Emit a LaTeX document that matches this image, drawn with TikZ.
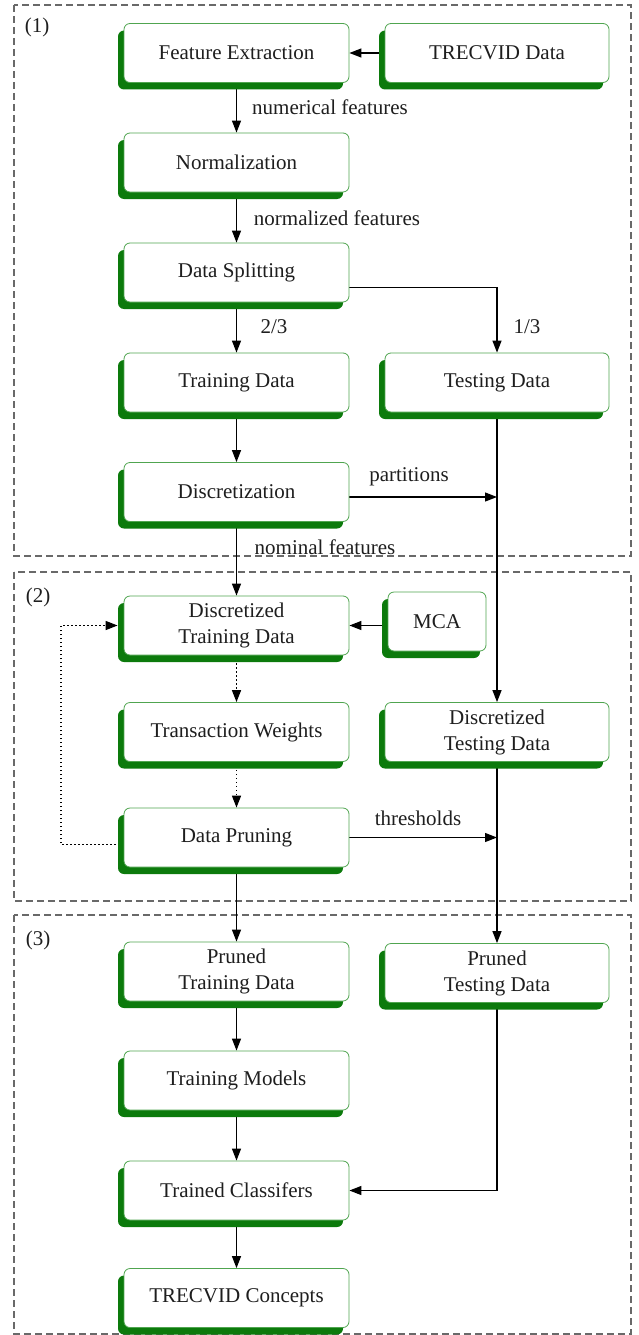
\documentclass[tikz,border=0pt]{standalone}
\usepackage{fontspec}
\setmainfont{Liberation Serif}
\usetikzlibrary{arrows.meta,shadows,calc}
\pgfdeclarelayer{background}
\pgfsetlayers{background,main}
\definecolor{boxline}{RGB}{80,165,80}
\definecolor{boxshade}{RGB}{12,122,12}
\definecolor{framegray}{RGB}{105,105,105}
\definecolor{inkgray}{RGB}{30,30,30}
\begin{document}
\begin{tikzpicture}[x=1pt,y=-1pt,
  txt/.style={font=\fontsize{21}{26}\selectfont, text=inkgray},
  stage/.style={txt, draw=boxline, line width=0.8pt, fill=white,
    rounded corners=6pt, minimum width=225pt, minimum height=59pt,
    align=center, inner sep=2pt,
    drop shadow={shadow xshift=-6pt, shadow yshift=-7pt, opacity=1, fill=boxshade}},
  small/.style={stage, minimum width=98pt},
  lbl/.style={txt, inner sep=0pt},
  frame/.style={draw=framegray, line width=1.2pt, dash pattern=on 7pt off 4pt},
  flow/.style={draw=black, line width=1.2pt, -{Triangle[length=12pt,width=9pt]}},
  loopback/.style={flow, dash pattern=on 1.5pt off 2.5pt, line width=1.4pt}]
\useasboundingbox (0,0) rectangle (638,1335);

% processing stages, left column
\node[stage] (fe)   at (236.5,53)    {Feature Extraction};
\node[stage] (norm) at (236.5,162.5) {Normalization};
\node[stage] (ds)   at (236.5,272.5) {Data Splitting};
\node[stage] (trd)  at (236.5,382.5) {Training Data};
\node[stage] (disc) at (236.5,492)   {Discretization};
\node[stage] (dtd)  at (236.5,625.5) {Discretized\\Training Data};
\node[stage] (tw)   at (236.5,732)   {Transaction Weights};
\node[stage] (dp)   at (236.5,837.5) {Data Pruning};
\node[stage] (ptr)  at (236.5,971.5) {Pruned\\Training Data};
\node[stage] (tm)   at (236.5,1080.5){Training Models};
\node[stage] (tc)   at (236.5,1190.5){Trained Classifers};
\node[stage] (tcon) at (236.5,1298)  {TRECVID Concepts};

% right column
\node[stage, minimum width=224pt] (tv)  at (497,53)    {TRECVID Data};
\node[stage, minimum width=224pt] (ted) at (497,382.5) {Testing Data};
\node[small] (mca) at (437,621.5) {MCA};
\node[stage, minimum width=224pt] (dte) at (497,732)   {Discretized\\Testing Data};
\node[stage, minimum width=224pt] (pte) at (497,973)   {Pruned\\Testing Data};

% section tags
\node[lbl] (s1) at (37,27)  {(1)};
\node[lbl] (s2) at (38,597) {(2)};
\node[lbl] (s3) at (38,940) {(3)};

% connector labels
\node[lbl] (l1) at (330,107) {numerical features};
\node[lbl] (l2) at (337,218) {normalized features};
\node[lbl] (l3) at (274,327) {2/3};
\node[lbl] (l4) at (527,327) {1/3};
\node[lbl] (l5) at (409,477) {partitions};
\node[lbl] (l6) at (325,547) {nominal features};
\node[lbl] (l7) at (418,818) {thresholds};

\coordinate (fb) at (61,700);

\begin{pgfonlayer}{background}
  % the three stage groups
  \draw[frame] (14,5) rectangle (631,556);
  \draw[frame] (14,572) rectangle (631,901);
  \draw[frame] (14,915) rectangle (631,1334);

  % main flow
  \draw[flow] (tv.west) -- (fe.east);
  \draw[flow] (fe.south) -- (norm.north);
  \draw[flow] (norm.south) -- (ds.north);
  \draw[flow] (ds.south) -- (trd.north);
  \draw[flow] ([yshift=-15pt]ds.east) -| (ted.north);
  \draw[flow] (trd.south) -- (disc.north);
  \draw[flow] (disc.south) -- (dtd.north);
  \draw[flow] ([yshift=-5pt]disc.east) -- ([yshift=-5pt]disc.east -| ted.south);
  \draw[flow] (ted.south) -- (dte.north);
  \draw[flow] (dtd.east -| mca.west) -- (dtd.east);
  \draw[loopback] (dtd.south) -- (tw.north);
  \draw[loopback] (tw.south) -- (dp.north);
  \draw[loopback] ([yshift=-7pt]dp.west) -| (fb) |- ([xshift=-6pt]dtd.west);
  \draw[flow] (dp.east) -- (dp.east -| dte.south);
  \draw[flow] (dte.south) -- (pte.north);
  \draw[flow] (dp.south) -- (ptr.north);
  \draw[flow] (ptr.south) -- (tm.north);
  \draw[flow] (tm.south) -- (tc.north);
  \draw[flow] (pte.south) |- (tc.east);
  \draw[flow] (tc.south) -- (tcon.north);
\end{pgfonlayer}
\end{tikzpicture}
\end{document}
